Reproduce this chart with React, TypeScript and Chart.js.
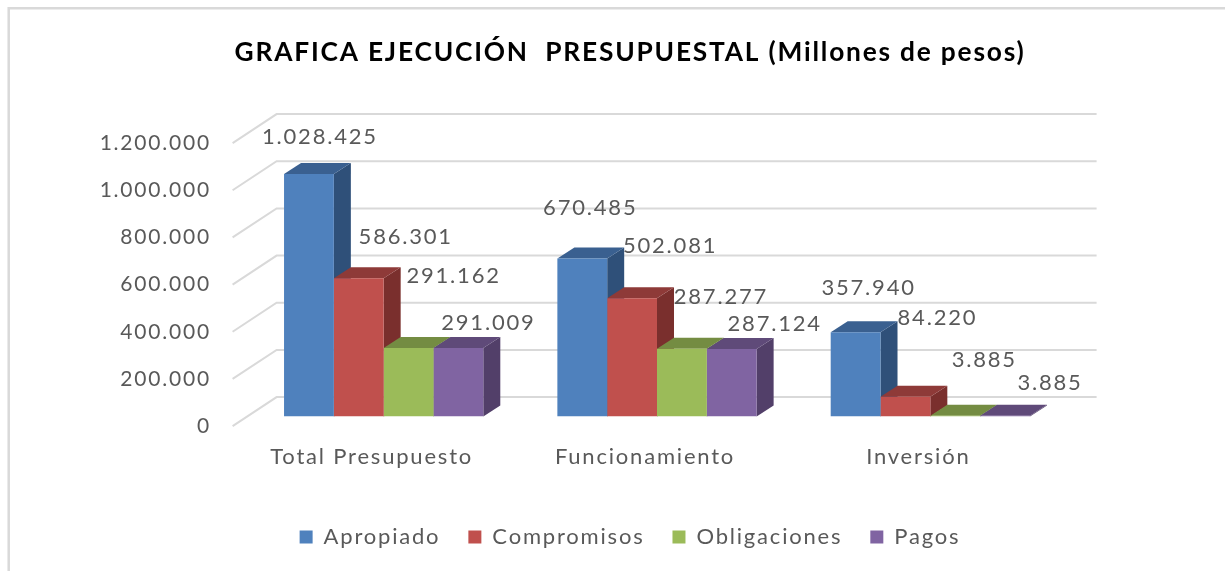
import React, { useEffect, useRef } from "react";
import { Chart, registerables } from "chart.js";

Chart.register(...registerables);

const categories = ["Total Presupuesto", "Funcionamiento", "Inversión"];
const seriesNames = ["Apropiado", "Compromisos", "Obligaciones", "Pagos"];
const apropiado = [1028425, 670485, 357940];
const compromisos = [586301, 502081, 84220];
const obligaciones = [291162, 287277, 3885];
const pagos = [291009, 287124, 3885];
const seriesValues = [apropiado, compromisos, obligaciones, pagos];

const TITLE = "GRAFICA EJECUCIÓN  PRESUPUESTAL (Millones de pesos)";
const FONT = "Lato";
const TEXT = "#595959";
const GRID = "#D9D9D9";
const FRONT = ["#4F81BD", "#C0504D", "#9BBB59", "#8064A2"];
const TOP = ["#3A6090", "#8E3A38", "#748C42", "#5F4A79"];
const SIDE = ["#2F5079", "#7A2F2D", "#637838", "#523F69"];

const BAR_DX = 17;
const BAR_DY = 11;
const WALL_FRONT = { x: -14.4, y: 9.5 };
const WALL_BACK = { x: 29.6, y: -19.5 };
// label nudges from the top-centre of each bar, as placed by hand in the original
const LABEL_NUDGE = [
  [[11, -37], [8, -51], [13, -44]],
  [[47, -41], [38, -52], [32, -79]],
  [[45, -72], [39, -52], [29, -56]],
  [[30, -25], [43, -25], [45, -33]],
];

const fmt = (v: number) => String(v).replace(/\B(?=(\d{3})+(?!\d))/g, ".");

const spacing = (chart: any) => {
  chart.ctx.letterSpacing = "1.8px";
};

const poly = (ctx: any, pts: number[][], fill: string) => {
  ctx.beginPath();
  pts.forEach((p, i) => (i ? ctx.lineTo(p[0], p[1]) : ctx.moveTo(p[0], p[1])));
  ctx.closePath();
  ctx.fillStyle = fill;
  ctx.fill();
};

const frame3d = {
  id: "frame3d",
  beforeUpdate: spacing,
  beforeLayout: spacing,
  beforeDraw(chart: any) {
    spacing(chart);
    const { ctx } = chart;
    ctx.save();
    ctx.strokeStyle = GRID;
    ctx.lineWidth = 2.5;
    ctx.beginPath();
    ctx.moveTo(8.7, 571);
    ctx.lineTo(8.7, 8.2);
    ctx.lineTo(1225, 8.2);
    ctx.stroke();
    ctx.restore();
  },
  beforeDatasetsDraw(chart: any) {
    const { ctx, chartArea, scales } = chart;
    const y = scales.y;
    ctx.save();
    ctx.strokeStyle = GRID;
    ctx.lineWidth = 2;
    y.ticks.forEach((t: any) => {
      const py = y.getPixelForValue(t.value);
      ctx.beginPath();
      ctx.moveTo(chartArea.left + WALL_FRONT.x, py + WALL_FRONT.y);
      ctx.lineTo(chartArea.left + WALL_BACK.x, py + WALL_BACK.y);
      ctx.lineTo(chartArea.right + WALL_BACK.x, py + WALL_BACK.y);
      ctx.stroke();
    });
    // tops and sides, left to right within a group, fronts follow from the library
    for (let c = 0; c < categories.length; c++) {
      seriesValues.forEach((_, s) => {
        const b = chart.getDatasetMeta(s).data[c];
        const l = b.x - b.width / 2;
        const r = b.x + b.width / 2;
        poly(ctx, [[r, b.y], [r + BAR_DX, b.y - BAR_DY], [r + BAR_DX, b.base - BAR_DY], [r, b.base]], SIDE[s]);
        poly(ctx, [[l, b.y], [l + BAR_DX, b.y - BAR_DY], [r + BAR_DX, b.y - BAR_DY], [r, b.y]], TOP[s]);
      });
    }
    ctx.restore();
  },
  afterDatasetsDraw(chart: any) {
    const { ctx } = chart;
    ctx.save();
    ctx.font = `22px ${FONT}`;
    ctx.fillStyle = TEXT;
    ctx.textAlign = "center";
    ctx.textBaseline = "middle";
    seriesValues.forEach((vals, s) => {
      vals.forEach((v, c) => {
        const b = chart.getDatasetMeta(s).data[c];
        const [dx, dy] = LABEL_NUDGE[s][c];
        ctx.fillText(fmt(v), b.x + dx, b.y + dy);
      });
    });
    ctx.restore();
  },
};

export default function App() {
  const ref = useRef<HTMLCanvasElement>(null);
  useEffect(() => {
    if (!ref.current) return;
    const chart = new Chart(ref.current, {
      type: "bar",
      data: {
        labels: categories,
        datasets: seriesNames.map((label, i) => ({
          label,
          data: seriesValues[i],
          backgroundColor: FRONT[i],
          borderWidth: 0,
          categoryPercentage: 0.729,
          barPercentage: 1,
          yAxisID: "y",
        })),
      },
      options: {
        responsive: false,
        animation: false,
        layout: { padding: { left: 35, right: 0, top: 37, bottom: 13 } },
        plugins: {
          tooltip: { enabled: false },
          title: {
            display: true,
            text: TITLE,
            color: "#000000",
            font: { family: FONT, size: 26.3, weight: "bold" },
            padding: { top: 0, bottom: 65 },
          },
          legend: {
            position: "bottom",
            labels: {
              color: TEXT,
              boxWidth: 13,
              boxHeight: 13,
              padding: 28,
              font: { family: FONT, size: 22 },
            },
          },
        },
        scales: {
          x: {
            grid: { display: false, drawTicks: false },
            border: { display: false },
            afterFit: (s: any) => { s.height += 1; },
            ticks: { color: TEXT, font: { family: FONT, size: 22 }, labelOffset: -12, padding: 27, maxRotation: 0 },
          },
          y: {
            min: 0,
            max: 1200000,
            grid: { display: false, drawTicks: false },
            border: { display: false },
            afterFit: (s: any) => { s.width = 212; },
            ticks: {
              stepSize: 200000,
              padding: 36,
              color: TEXT,
              font: { family: FONT, size: 21, lineHeight: 19 / 21 },
              callback: (v: any) => ["", fmt(Number(v))],
            },
          },
          yRight: {
            position: "right",
            display: true,
            grid: { display: false, drawTicks: false },
            border: { display: false },
            ticks: { display: false },
            afterFit: (s: any) => { s.width = 158; },
          },
        },
      } as any,
      plugins: [frame3d],
    });
    return () => chart.destroy();
  }, []);
  return (
    <canvas
      ref={ref}
      width={1225}
      height={571}
      style={{ position: "absolute", left: 0, top: 0, display: "block" }}
    />
  );
}
